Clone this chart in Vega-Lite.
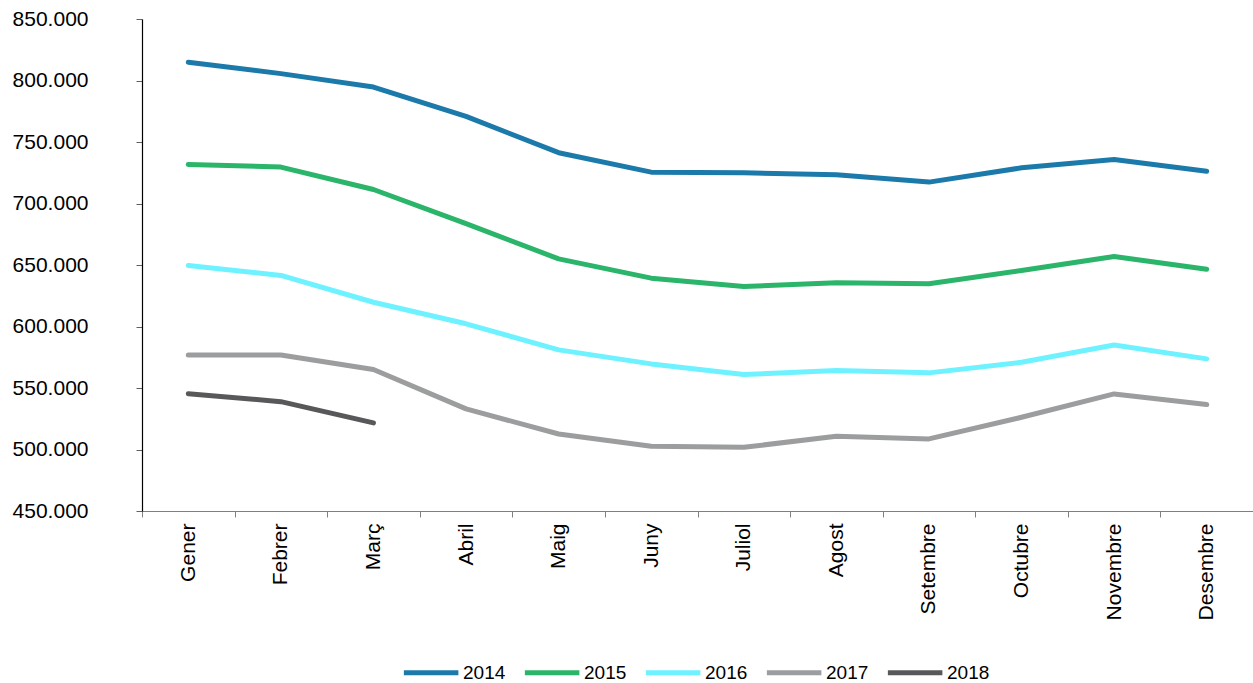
{
  "$schema": "https://vega.github.io/schema/vega-lite/v6.json",
  "autosize": {"type": "none"},
  "width": 1111,
  "height": 492,
  "padding": {"left": 142, "top": 19, "right": 0, "bottom": 172},
  "background": "white",
  "config": {
    "view": {"stroke": null},
    "font": "Liberation Sans"
  },
  "data": {
    "values": [
      {"mes": "Gener", "any": "2014", "valor": 814800},
      {"mes": "Febrer", "any": "2014", "valor": 805600},
      {"mes": "Març", "any": "2014", "valor": 794700},
      {"mes": "Abril", "any": "2014", "valor": 770800},
      {"mes": "Maig", "any": "2014", "valor": 741300},
      {"mes": "Juny", "any": "2014", "valor": 725500},
      {"mes": "Juliol", "any": "2014", "valor": 725000},
      {"mes": "Agost", "any": "2014", "valor": 723400},
      {"mes": "Setembre", "any": "2014", "valor": 717400},
      {"mes": "Octubre", "any": "2014", "valor": 729000},
      {"mes": "Novembre", "any": "2014", "valor": 735800},
      {"mes": "Desembre", "any": "2014", "valor": 726300},
      {"mes": "Gener", "any": "2015", "valor": 731800},
      {"mes": "Febrer", "any": "2015", "valor": 729600},
      {"mes": "Març", "any": "2015", "valor": 711400},
      {"mes": "Abril", "any": "2015", "valor": 683600},
      {"mes": "Maig", "any": "2015", "valor": 655000},
      {"mes": "Juny", "any": "2015", "valor": 639300},
      {"mes": "Juliol", "any": "2015", "valor": 632500},
      {"mes": "Agost", "any": "2015", "valor": 635500},
      {"mes": "Setembre", "any": "2015", "valor": 634700},
      {"mes": "Octubre", "any": "2015", "valor": 645500},
      {"mes": "Novembre", "any": "2015", "valor": 656900},
      {"mes": "Desembre", "any": "2015", "valor": 646600},
      {"mes": "Gener", "any": "2016", "valor": 649600},
      {"mes": "Febrer", "any": "2016", "valor": 641500},
      {"mes": "Març", "any": "2016", "valor": 619700},
      {"mes": "Abril", "any": "2016", "valor": 602200},
      {"mes": "Maig", "any": "2016", "valor": 581000},
      {"mes": "Juny", "any": "2016", "valor": 569600},
      {"mes": "Juliol", "any": "2016", "valor": 560900},
      {"mes": "Agost", "any": "2016", "valor": 564200},
      {"mes": "Setembre", "any": "2016", "valor": 562300},
      {"mes": "Octubre", "any": "2016", "valor": 570900},
      {"mes": "Novembre", "any": "2016", "valor": 585000},
      {"mes": "Desembre", "any": "2016", "valor": 573700},
      {"mes": "Gener", "any": "2017", "valor": 576900},
      {"mes": "Febrer", "any": "2017", "valor": 576900},
      {"mes": "Març", "any": "2017", "valor": 565000},
      {"mes": "Abril", "any": "2017", "valor": 533000},
      {"mes": "Maig", "any": "2017", "valor": 512600},
      {"mes": "Juny", "any": "2017", "valor": 502600},
      {"mes": "Juliol", "any": "2017", "valor": 501800},
      {"mes": "Agost", "any": "2017", "valor": 510700},
      {"mes": "Setembre", "any": "2017", "valor": 508600},
      {"mes": "Octubre", "any": "2017", "valor": 526200},
      {"mes": "Novembre", "any": "2017", "valor": 545200},
      {"mes": "Desembre", "any": "2017", "valor": 536500},
      {"mes": "Gener", "any": "2018", "valor": 545400},
      {"mes": "Febrer", "any": "2018", "valor": 538900},
      {"mes": "Març", "any": "2018", "valor": 521600}
    ]
  },
  "mark": {"type": "line", "strokeWidth": 5, "strokeCap": "round", "strokeJoin": "round"},
  "encoding": {
    "x": {
      "field": "mes",
      "type": "ordinal",
      "sort": ["Gener", "Febrer", "Març", "Abril", "Maig", "Juny", "Juliol", "Agost", "Setembre", "Octubre", "Novembre", "Desembre"],
      "scale": {"type": "band", "paddingInner": 0, "paddingOuter": 0},
      "bandPosition": 0.5,
      "axis": {
        "title": null,
        "labelAngle": -90,
        "labelFontSize": 21,
        "labelColor": "#000000",
        "labelPadding": 6,
        "tickBand": "extent",
        "tickSize": 6,
        "tickColor": "#808080",
        "domainColor": "#808080",
        "domainWidth": 1.2,
        "grid": false
      }
    },
    "y": {
      "field": "valor",
      "type": "quantitative",
      "scale": {"domain": [450000, 850000], "nice": false, "zero": false},
      "axis": {
        "title": null,
        "values": [450000, 500000, 550000, 600000, 650000, 700000, 750000, 800000, 850000],
        "labelExpr": "replace(format(datum.value, ',.0f'), ',', '.')",
        "labelFontSize": 21,
        "labelColor": "#000000",
        "labelPadding": 48,
        "tickSize": 6,
        "tickColor": "#606060",
        "domainColor": "#000000",
        "domainWidth": 1.2,
        "grid": false
      }
    },
    "color": {
      "field": "any",
      "type": "nominal",
      "scale": {
        "domain": ["2014", "2015", "2016", "2017", "2018"],
        "range": ["#1c7aab", "#2bb56a", "#6ef2ff", "#9b9d9e", "#58585a"]
      },
      "legend": {
        "title": null,
        "orient": "none",
        "direction": "horizontal",
        "legendX": 259,
        "legendY": 637,
        "padding": 0,
        "symbolType": "M-1,0H3",
        "symbolSize": 743,
        "symbolStrokeWidth": 5,
        "symbolStrokeCap": "round",
        "labelFontSize": 19,
        "labelColor": "#000000",
        "labelOffset": 29,
        "columnPadding": 8
      }
    }
  }
}
